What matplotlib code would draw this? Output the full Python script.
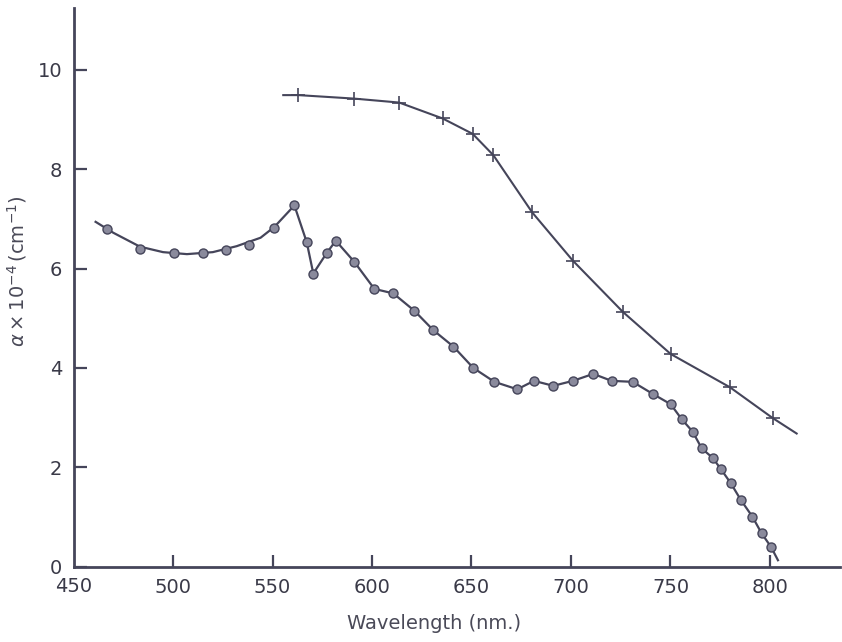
import numpy as np
import matplotlib
matplotlib.use('Agg')
import matplotlib.pyplot as plt


# data
# lower curve (circles)
circle_nm = [466.7, 483.4, 500.7, 515.2, 526.5, 538.3, 550.9, 561.0,
             567.2, 570.5, 577.2, 581.8, 591.0, 601.2, 610.7, 621.3,
             630.8, 640.9, 650.9, 661.5, 673.0, 681.4, 691.1, 701.0,
             711.2, 720.4, 731.0, 741.4, 750.1, 755.6, 761.1, 765.7,
             771.2, 775.4, 780.3, 785.4, 791.1, 795.8, 800.5]
circle_val = [6.79, 6.39, 6.31, 6.31, 6.37, 6.47, 6.81, 7.27,
              6.53, 5.90, 6.31, 6.56, 6.14, 5.59, 5.50, 5.15,
              4.76, 4.43, 4.00, 3.72, 3.57, 3.74, 3.64, 3.74,
              3.88, 3.74, 3.72, 3.47, 3.27, 2.97, 2.72, 2.38,
              2.19, 1.96, 1.68, 1.34, 1.01, 0.67, 0.40]

# smooth drawn curve for the left part of the lower trace
lower_fit_nm = [461.1, 470.0, 483.4, 495.0, 507.0, 520.0, 532.0, 544.0, 551.0, 561.0]
lower_fit_val = [6.94, 6.72, 6.44, 6.33, 6.29, 6.33, 6.45, 6.62, 6.84, 7.27]
lower_end_nm = 804.0
lower_end_val = 0.13

# upper curve (crosses)
cross_nm = [563.0, 591.0, 613.7, 635.5, 650.6, 661.0, 680.5, 700.9,
            726.0, 750.1, 779.9, 801.4]
cross_val = [9.49, 9.42, 9.34, 9.02, 8.71, 8.28, 7.13, 6.16,
             5.13, 4.28, 3.61, 2.99]
upper_start = (555.4, 9.49)
upper_end = (813.4, 2.68)

x_ticks = [500, 550, 600, 650, 700, 750, 800]
x_labels = ['500', '550', '600', '650', '700', '750', '800']
y_ticks = [0, 2, 4, 6, 8, 10]

INK = '#45455a'
FACE = '#8a8a9c'
TXT = '#3a3a48'

fig = plt.figure(figsize=(8.42, 6.42), dpi=100)
ax = fig.add_axes([0.0873, 0.1173, 0.9099, 0.870])

# lower curve line: smooth left part, then through the points
line_nm = lower_fit_nm + circle_nm[8:] + [lower_end_nm]
line_val = lower_fit_val + circle_val[8:] + [lower_end_val]
ax.plot(line_nm, line_val, color=INK, lw=1.6, zorder=2)
ax.plot(circle_nm, circle_val, ls='none', marker='o', ms=6.5,
        mfc=FACE, mec=INK, mew=1.0, zorder=3)

# upper curve
up_nm = [upper_start[0]] + cross_nm + [upper_end[0]]
up_val = [upper_start[1]] + cross_val + [upper_end[1]]
ax.plot(up_nm, up_val, color=INK, lw=1.5, zorder=2)
ax.plot(cross_nm, cross_val, ls='none', marker='+', ms=10,
        mec=INK, mew=1.2, zorder=3)

ax.set_xlim(450, 835)
ax.set_ylim(0, 11.24)

for side in ['top', 'right']:
    ax.spines[side].set_visible(False)
for side in ['left', 'bottom']:
    ax.spines[side].set_color(INK)
    ax.spines[side].set_linewidth(2)

ax.set_xticks(x_ticks)
ax.set_xticklabels(x_labels)
ax.set_yticks(y_ticks)
ax.tick_params(direction='in', length=9, width=1.6, colors=INK,
               labelsize=14, labelcolor=TXT)
ax.tick_params(axis='x', pad=8)
ax.tick_params(axis='y', pad=8)

# corner label for 450 sits below the axis corner
ax.text(450, -0.2, '450', ha='center', va='top', fontsize=14,
        color=TXT, transform=ax.transData)

ax.set_xlabel('Wavelength (nm.)', fontsize=14, color='#4a4a58')
ax.xaxis.set_label_coords(0.47, -0.085)
ax.set_ylabel(r'$\alpha \times 10^{-4}\,(\mathrm{cm}^{-1})$', fontsize=14,
              color='#4a4a58')
ax.yaxis.set_label_coords(-0.058, 0.53)

fig.savefig('out.png', dpi=100, facecolor='white')
